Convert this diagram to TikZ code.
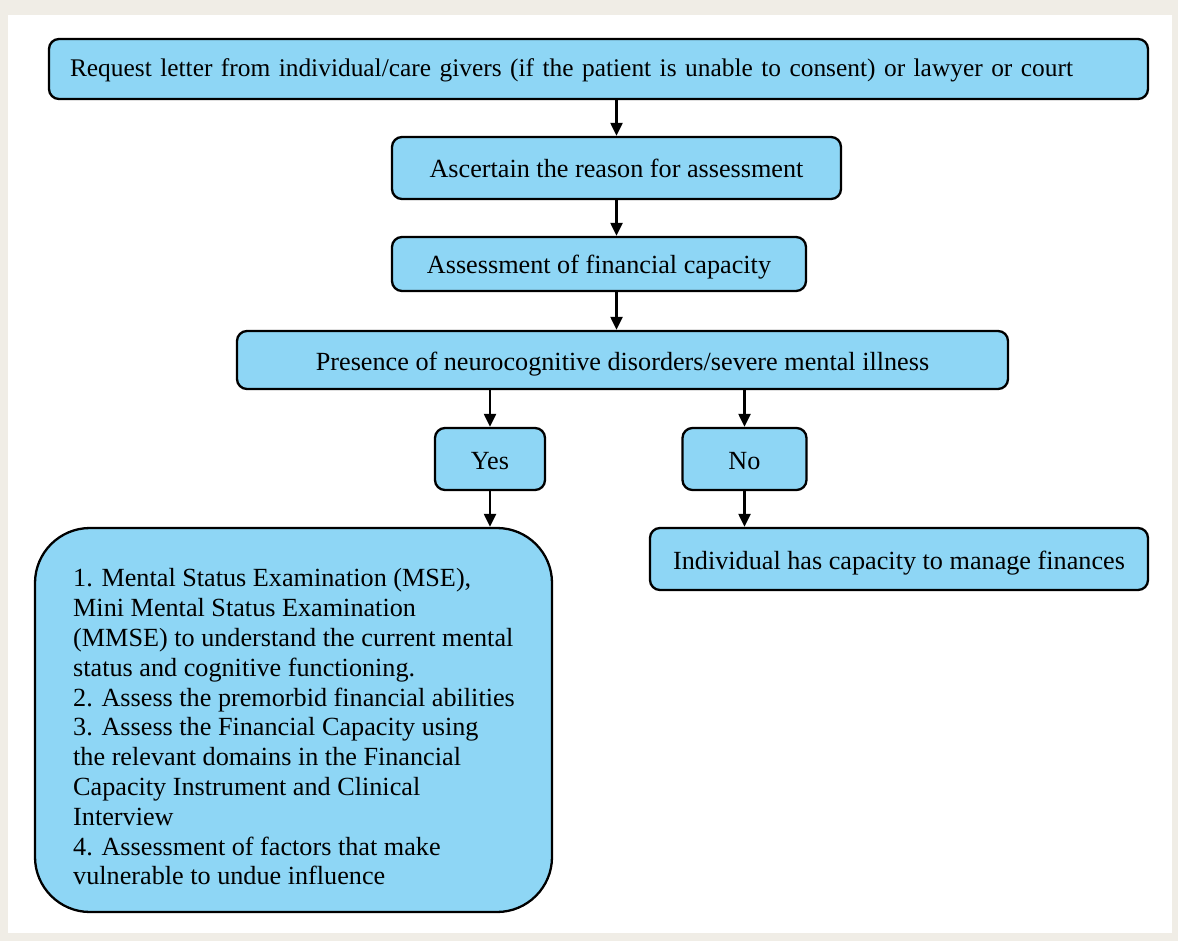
\documentclass[tikz,border=0pt]{standalone}
\usepackage{fontspec}
\setmainfont{Liberation Serif}
\usetikzlibrary{arrows.meta}
\definecolor{bgbeige}{RGB}{240,237,230}
\definecolor{boxblue}{RGB}{142,214,245}
\tikzset{
  box/.style={draw=black, line width=2.3pt, fill=boxblue, rounded corners=10pt, inner sep=0pt, font=\fontsize{26.2}{30}\selectfont, align=center, text height=25pt, text depth=5pt},
  arr/.style={line width=2.2pt, -{Triangle[length=13pt,width=12pt]}}
}
\begin{document}
\begin{tikzpicture}[x=1pt,y=-1pt]
\fill[bgbeige] (0,0) rectangle (1178,941);
\fill[white] (8,15) rectangle (1172,933);
\useasboundingbox (0,0) rectangle (1178,941);
\node[box, minimum width=1099pt, minimum height=60pt, text width=1057pt, align=left, font=\fontsize{25.4}{30}\selectfont, text height=20pt, text depth=5pt] (top) at (598.5,69) {Request letter from individual/care givers (if the patient is unable to consent) or lawyer or court};
\node[box, minimum width=449pt, minimum height=62pt] (asc) at (616.5,168) {Ascertain the reason for assessment};
\node[box, minimum width=414pt, minimum height=54pt] (assess) at (599,264) {Assessment of financial capacity};
\node[box, minimum width=771pt, minimum height=58pt] (pres) at (622.5,360) {Presence of neurocognitive disorders/severe mental illness};
\node[box, minimum width=110pt, minimum height=62pt] (yes) at (490,459) {Yes};
\node[box, minimum width=124pt, minimum height=62pt] (no) at (744.5,459) {No};
\node[box, rounded corners=55pt, minimum width=517pt, minimum height=384pt] (big) at (293.5,720) {};
\node[font=\fontsize{26.2}{29.8}\selectfont, align=left, anchor=west, inner sep=0pt] (bigtext) at (73,727) {1. Mental Status Examination (MSE),\\
Mini Mental Status Examination\\
(MMSE) to understand the current mental\\
status and cognitive functioning.\\
2. Assess the premorbid financial abilities\\
3. Assess the Financial Capacity using\\
the relevant domains in the Financial\\
Capacity Instrument and Clinical\\
Interview\\
4. Assessment of factors that make\\
vulnerable to undue influence};
\node[box, minimum width=498pt, minimum height=62pt] (ind) at (899,559) {Individual has capacity to manage finances};
\draw[arr] (top.south -| asc.south) -- (asc.north);
\draw[arr] (asc.south) -- (assess.north -| asc.south);
\draw[arr] (assess.south -| asc.south) -- (pres.north -| asc.south);
\draw[arr] (pres.south -| yes.north) -- (yes.north);
\draw[arr] (pres.south -| no.north) -- (no.north);
\draw[arr] (yes.south) -- (big.north -| yes.south);
\draw[arr] (no.south) -- (ind.north -| no.south);
\end{tikzpicture}
\end{document}
